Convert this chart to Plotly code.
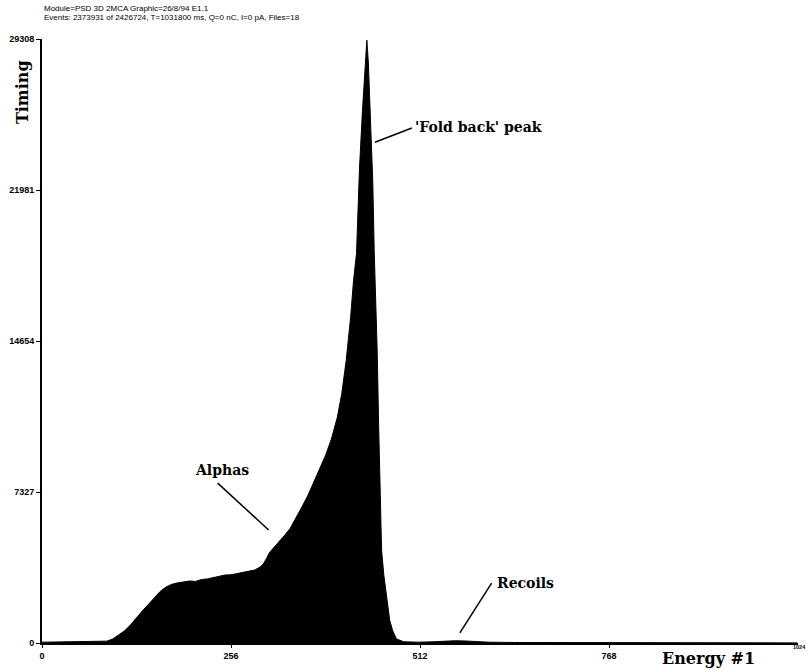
import plotly.graph_objects as go

# Channel (Energy #1) and counts (Timing)
channels = [0, 20, 40, 60, 80, 88, 96, 104, 112, 120, 128, 136, 144, 152, 160,
            168, 176, 184, 192, 200, 208, 216, 224, 232, 240, 248, 256, 264,
            272, 280, 288, 296, 300, 304, 308, 312, 316, 320, 328, 336, 344,
            352, 360, 368, 376, 384, 392, 400, 406, 412, 418, 422, 426, 430,
            434, 437, 440, 442, 444, 446, 448, 450, 452, 454, 456, 458, 460,
            463, 467, 471, 475, 480, 490, 510, 530, 545, 560, 575, 590, 605,
            640, 700, 800, 900, 1023]
counts = [40, 50, 45, 55, 60, 90, 200, 380, 600, 880, 1230, 1560, 1870, 2180, 2500,
          2720, 2850, 2920, 2960, 3010, 2990, 3080, 3110, 3180, 3240, 3300, 3310, 3370,
          3420, 3460, 3540, 3700, 3850, 4100, 4380, 4550, 4700, 4880, 5200, 5550, 6050,
          6600, 7150, 7800, 8450, 9100, 9900, 10950, 12100, 13700, 15800, 17600, 18900, 23000,
          25800, 27600, 29250, 28200, 26500, 24400, 22400, 19000, 17000, 14200, 10500, 6900, 4500,
          3300, 2100, 1100, 600, 200, 60, 40, 60, 100, 110, 95, 70, 40,
          25, 20, 15, 10, 5]

x_ticks = [0, 256, 512, 768]
y_ticks = [0, 7327, 14654, 21981, 29308]

header1 = "Module=PSD 3D 2MCA Graphic=26/8/94 E1.1"
header2 = "Events: 2373931 of 2426724, T=1031800 ms, Q=0 nC, I=0 pA, Files=18"

serif = "DejaVu Serif"
sans = "Liberation Sans"

fig = go.Figure()
fig.add_trace(go.Scatter(
    x=channels, y=counts, mode="lines", fill="tozeroy",
    line=dict(color="black", width=1), fillcolor="black",
    hoverinfo="x+y", showlegend=False))

fig.update_xaxes(range=[0, 1024], tickvals=x_ticks, ticktext=[str(v) for v in x_ticks],
                 ticks="outside", ticklen=3, tickcolor="black", tickwidth=1,
                 showline=True, linecolor="black", linewidth=2, automargin=False,
                 showgrid=False, zeroline=False,
                 tickfont=dict(family=sans, size=9, color="black", weight="bold"))
fig.update_yaxes(range=[0, 29308], tickvals=y_ticks, ticktext=[str(v) for v in y_ticks],
                 ticks="outside", ticklen=4, tickcolor="black", tickwidth=1,
                 showline=True, linecolor="black", linewidth=2, automargin=False,
                 showgrid=False, zeroline=False,
                 tickfont=dict(family=sans, size=9, color="black", weight="bold"))

# leader lines
lines = [
    (451, 24300, 501, 24990),   # fold back peak
    (238, 7760, 307, 5480),     # alphas
    (609, 2910, 566, 490),      # recoils
]
for x0, y0, x1, y1 in lines:
    fig.add_shape(type="line", x0=x0, y0=y0, x1=x1, y1=y1, xref="x", yref="y",
                  line=dict(color="black", width=1.5))

ann_font = dict(family=serif, size=14, color="black", weight="bold")
fig.add_annotation(x=503, y=25040, xref="x", yref="y", text="'Fold back' peak",
                   showarrow=False, xanchor="left", yanchor="middle", font=ann_font)
fig.add_annotation(x=244, y=8400, xref="x", yref="y", text="Alphas",
                   showarrow=False, xanchor="center", yanchor="middle", font=ann_font)
fig.add_annotation(x=613, y=2910, xref="x", yref="y", text="Recoils",
                   showarrow=False, xanchor="left", yanchor="middle", font=ann_font)

# axis titles
fig.add_annotation(x=-0.0265, y=0.912, xref="paper", yref="paper", text="Timing",
                   textangle=-90, showarrow=False, xanchor="center", yanchor="middle",
                   font=dict(family=serif, size=16, color="black", weight="bold"))
fig.add_annotation(x=0.881, y=-0.026, xref="paper", yref="paper", text="Energy #1",
                   showarrow=False, xanchor="center", yanchor="middle",
                   font=dict(family=serif, size=16, color="black", weight="bold"))
fig.add_annotation(x=1.0115, y=-0.007, xref="paper", yref="paper", text="1024",
                   showarrow=False, xanchor="right", yanchor="middle", borderpad=0,
                   font=dict(family=sans, size=5.5, color="black", weight="bold"))

# header
fig.add_annotation(x=0.0, y=1.051, xref="paper", yref="paper", text=header1,
                   showarrow=False, xanchor="left", yanchor="middle",
                   font=dict(family=sans, size=8, color="black"))
fig.add_annotation(x=0.0, y=1.036, xref="paper", yref="paper", text=header2,
                   showarrow=False, xanchor="left", yanchor="middle",
                   font=dict(family=sans, size=8, color="black"))

fig.update_layout(width=807, height=670, margin=dict(l=42, r=9, t=39, b=27),
                  plot_bgcolor="white", paper_bgcolor="white")

fig.write_html("out.html")
